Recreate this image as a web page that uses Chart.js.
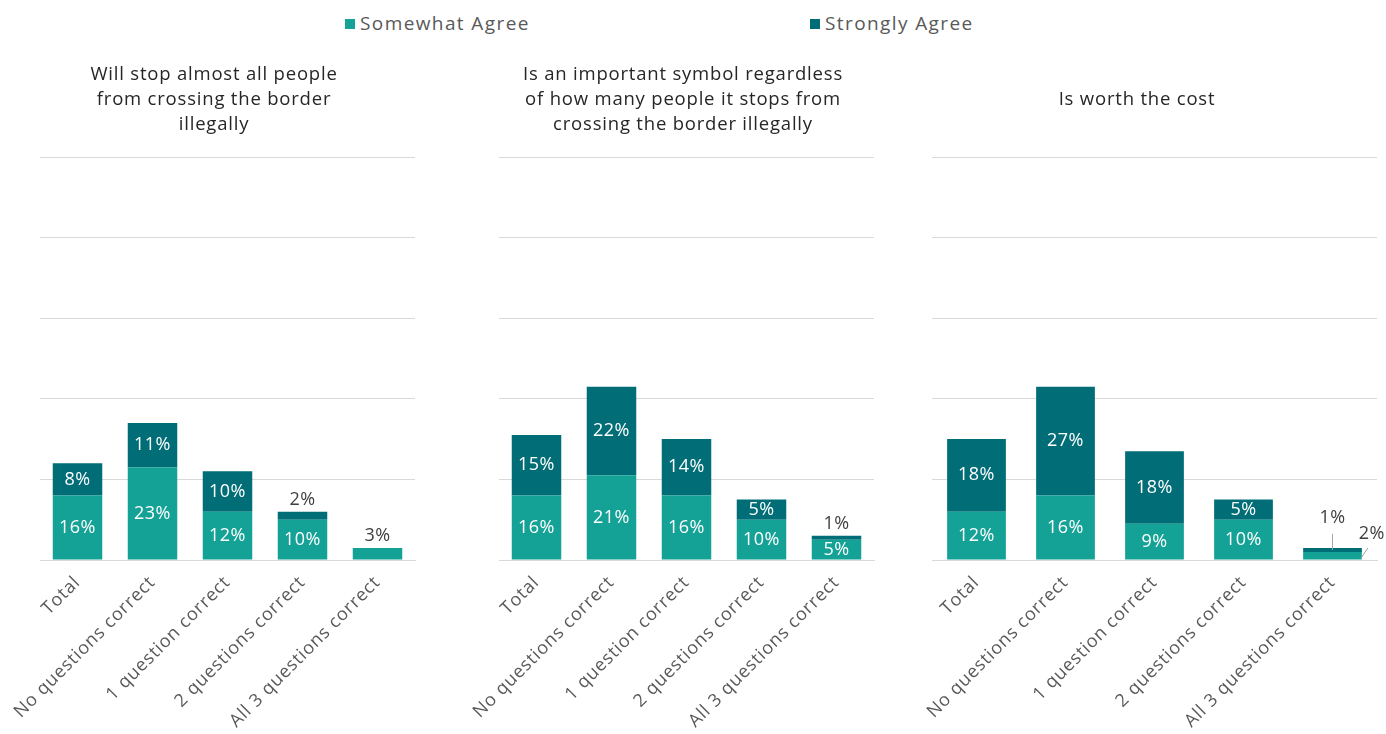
<!DOCTYPE html>
<html>
<head>
<meta charset="utf-8">
<script src="https://cdn.jsdelivr.net/npm/chart.js@4/dist/chart.umd.min.js"></script>
<style>
    body { margin: 0; width: 1386px; height: 734px; background: #fff; overflow: hidden; position: relative; font-family: "Open Sans", "Noto Sans", sans-serif; }
    canvas { position: absolute; top: 0; }
    .legend { position: absolute; top: 10px; font-size: 19px; letter-spacing: 1.4px; color: #595959; line-height: 26px; white-space: nowrap; }
    .legend i { display: inline-block; width: 10px; height: 10px; margin-right: 5px; vertical-align: 1px; }
</style>
</head>
<body>
<div class="legend" id="legend-somewhat" style="left:345px"><i></i>Somewhat Agree</div>
<div class="legend" id="legend-strongly" style="left:810px"><i></i>Strongly Agree</div>
<canvas id="chart-stop" width="428" height="734" style="left:0px"></canvas>
<canvas id="chart-symbol" width="426" height="734" style="left:470px"></canvas>
<canvas id="chart-cost" width="498" height="734" style="left:888px"></canvas>
<script>
    "use strict";

    var categories = ['Total', 'No questions correct', '1 question correct', '2 questions correct', 'All 3 questions correct'];

    var stopTitle = ['Will stop almost all people', 'from crossing the border', 'illegally'];
    var stopSomewhat = [16, 23, 12, 10, 3];
    var stopStrongly = [8, 11, 10, 2, 0];

    var symbolTitle = ['Is an important symbol regardless', 'of how many people it stops from', 'crossing the border illegally'];
    var symbolSomewhat = [16, 21, 16, 10, 5];
    var symbolStrongly = [15, 22, 14, 5, 1];

    var costTitle = ['Is worth the cost'];
    var costSomewhat = [12, 16, 9, 10, 2];
    var costStrongly = [18, 27, 18, 5, 1];

    var SOMEWHAT_COLOR = '#14a296';
    var STRONGLY_COLOR = '#016e77';
    var FONT = '"Open Sans", "Noto Sans", sans-serif';
    var MIN_INSIDE = 15;

    document.querySelector('#legend-somewhat i').style.background = SOMEWHAT_COLOR;
    document.querySelector('#legend-strongly i').style.background = STRONGLY_COLOR;

    // the canvas text is set a little wider than the font's default spacing
    var wideText = {
        id: 'wideText',
        beforeDraw: function (chart) {
            chart.ctx.letterSpacing = '0.8px';
        }
    };

    // value labels: inside the segment when it is tall enough, otherwise above / beside the bar
    var segmentLabels = {
        id: 'segmentLabels',
        afterDatasetsDraw: function (chart) {
            var ctx = chart.ctx;
            var lowMeta = chart.getDatasetMeta(0);
            var highMeta = chart.getDatasetMeta(1);
            var lowVals = chart.data.datasets[0].data;
            var highVals = chart.data.datasets[1].data;

            ctx.save();
            ctx.font = '18px ' + FONT;
            ctx.letterSpacing = '0.5px';
            ctx.textAlign = 'center';
            ctx.textBaseline = 'middle';
            ctx.strokeStyle = '#a6a6a6';
            ctx.lineWidth = 1;

            var put = function (text, x, y, inside) {
                ctx.fillStyle = inside ? '#ffffff' : '#404040';
                ctx.fillText(text, x, y);
            };
            var leader = function (x1, y1, x2, y2) {
                ctx.beginPath();
                ctx.moveTo(x1, y1);
                ctx.lineTo(x2, y2);
                ctx.stroke();
            };

            lowMeta.data.forEach(function (low, i) {
                var high = highMeta.data[i];
                var hasHigh = highVals[i] > 0;
                var lowInside = (low.base - low.y) >= MIN_INSIDE;
                var highInside = (high.base - high.y) >= MIN_INSIDE;
                var top = hasHigh ? high.y : low.y;

                if (lowInside) {
                    put(lowVals[i] + '%', low.x, (low.y + low.base) / 2, true);
                } else if (!hasHigh) {
                    put(lowVals[i] + '%', low.x, top - 12, false);
                } else {
                    var right = low.x + low.width / 2;
                    leader(right - 1, low.base - 1, right + 6, low.y - 4);
                    put(lowVals[i] + '%', right + 10, low.y - 18, false);
                }

                if (hasHigh) {
                    if (highInside) {
                        put(highVals[i] + '%', high.x, (high.y + high.base) / 2, true);
                    } else if (lowInside) {
                        put(highVals[i] + '%', high.x, top - 12, false);
                    } else {
                        leader(high.x, top + 2, high.x, top - 14);
                        put(highVals[i] + '%', high.x, top - 30, false);
                    }
                }
            });
            ctx.restore();
        }
    };

    // gapLeft / gapRight: empty space either side of the plot, so the title stays centred on the canvas
    function buildPanel(canvasId, titleLines, titlePadding, somewhat, strongly, gapLeft, gapRight) {
        return new Chart(document.getElementById(canvasId), {
            type: 'bar',
            data: {
                labels: categories,
                datasets: [
                    { label: 'Somewhat Agree', data: somewhat, backgroundColor: SOMEWHAT_COLOR },
                    { label: 'Strongly Agree', data: strongly, backgroundColor: STRONGLY_COLOR }
                ]
            },
            options: {
                responsive: false,
                animation: false,
                events: [],
                layout: { padding: 0 },
                datasets: {
                    bar: { barPercentage: 0.66, categoryPercentage: 1, borderWidth: 0 }
                },
                plugins: {
                    legend: { display: false },
                    tooltip: { enabled: false },
                    title: {
                        display: true,
                        text: titleLines,
                        color: '#262626',
                        font: { family: FONT, size: 18.5, weight: 'normal', lineHeight: '25px' },
                        padding: titlePadding
                    }
                },
                scales: {
                    x: {
                        stacked: true,
                        grid: { display: false },
                        border: { color: '#d9d9d9' },
                        ticks: {
                            color: '#595959',
                            font: { family: FONT, size: 18 },
                            minRotation: 45,
                            maxRotation: 45,
                            padding: 4
                        },
                        afterFit: function (scale) { scale.height = 174; }
                    },
                    y: {
                        stacked: true,
                        min: 0,
                        max: 100,
                        ticks: { display: false, stepSize: 20 },
                        grid: { color: '#d9d9d9', drawTicks: false },
                        border: { display: false },
                        afterFit: function (scale) { scale.width = gapLeft; }
                    },
                    spacer: {
                        type: 'linear',
                        position: 'right',
                        ticks: { display: false },
                        grid: { display: false, drawTicks: false },
                        border: { display: false },
                        afterFit: function (scale) { scale.width = gapRight; }
                    }
                }
            },
            plugins: [wideText, segmentLabels]
        });
    }

    buildPanel('chart-stop', stopTitle, { top: 62, bottom: 20 }, stopSomewhat, stopStrongly, 40, 13);
    buildPanel('chart-symbol', symbolTitle, { top: 62, bottom: 20 }, symbolSomewhat, symbolStrongly, 29, 22);
    buildPanel('chart-cost', costTitle, { top: 87, bottom: 45 }, costSomewhat, costStrongly, 44, 9);
</script>
</body>
</html>
